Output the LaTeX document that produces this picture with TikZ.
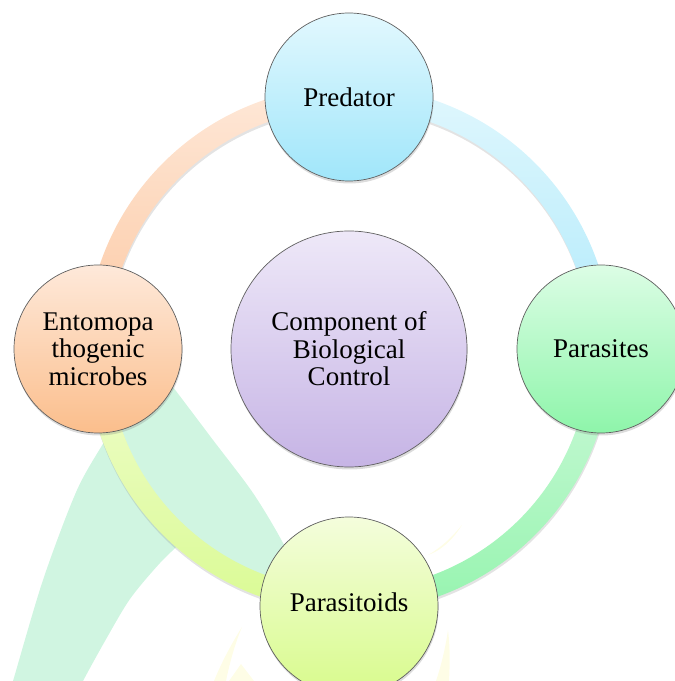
\documentclass[tikz,border=0pt]{standalone}
\usepackage{fontspec}
\setmainfont{Liberation Serif}
\newfontfamily\lserif{Liberation Serif}
\usetikzlibrary{shadows,calc}
\definecolor{bordergray}{RGB}{95,95,95}
\definecolor{leafgreen}{RGB}{208,245,225}
\definecolor{flameyellow}{RGB}{254,253,230}
\definecolor{predtop}{RGB}{226,248,254}
\definecolor{predbot}{RGB}{160,230,250}
\definecolor{paratop}{RGB}{220,253,229}
\definecolor{parabot}{RGB}{142,245,170}
\definecolor{oidtop}{RGB}{244,253,220}
\definecolor{oidbot}{RGB}{216,251,140}
\definecolor{entotop}{RGB}{254,233,218}
\definecolor{entobot}{RGB}{251,190,140}
\definecolor{centtop}{RGB}{238,232,248}
\definecolor{centbot}{RGB}{198,180,229}
\definecolor{ringAtop}{RGB}{254,232,216}
\definecolor{ringAbot}{RGB}{252,200,162}
\definecolor{ringBtop}{RGB}{224,247,253}
\definecolor{ringBbot}{RGB}{176,234,251}
\definecolor{ringCtop}{RGB}{206,249,218}
\definecolor{ringCbot}{RGB}{150,244,175}
\definecolor{ringDtop}{RGB}{240,252,206}
\definecolor{ringDbot}{RGB}{218,251,148}
\begin{document}
\begin{tikzpicture}[x=1pt,y=1pt,
  bub/.style={circle, draw=bordergray, line width=0.7pt, minimum size=168pt,
    inner sep=0pt, align=center, font=\lserif\fontsize{27}{27.6}\selectfont,
    drop shadow={opacity=0.28, shadow xshift=0.6pt, shadow yshift=-2.5pt}},
  bigbub/.style={bub, minimum size=236pt},
  txt/.style={inner sep=0pt, align=center, font=\lserif\fontsize{27}{27.6}\selectfont},
  ringseg/.style={drop shadow={opacity=0.22, shadow xshift=0.5pt, shadow yshift=-2.5pt}},
  leaf/.style={fill=leafgreen},
  flame/.style={fill=flameyellow}]
\useasboundingbox (0,0) rectangle (675,681);
\begin{scope}
\clip (0,0) rectangle (675,681);
% background leaf
\fill[leaf] plot[smooth] coordinates {(10,-8) (13,0) (43,101) (77,191) (107,244) (130,285)}
  -- (150,324)
  -- plot[smooth] coordinates {(150,324) (173,294) (213,241) (253,188) (283,138) (305,90)}
  -- (265,89) -- (186,143)
  -- plot[smooth] coordinates {(186,143) (160,118) (130,82) (105,40) (83,0) (80,-8)}
  -- cycle;
% faint flames
\fill[flame] (242,54) .. controls (230,35) and (220,15) .. (214,0) -- (226,0) .. controls (230,20) and (236,40) .. (242,54);
\fill[flame] (241,17) -- (229,0) -- (254,0) -- cycle;
\fill[flame] (448,51) .. controls (445,30) and (440,12) .. (436,0) -- (449,0) .. controls (450,18) and (450,35) .. (448,51);
\fill[flame] (462,156) .. controls (452,140) and (440,130) .. (428,126) .. controls (442,134) and (452,144) .. (462,156);
\end{scope}
\coordinate (C) at (349,332);
% ring segments
\shade[ringseg, top color=ringAtop, bottom color=ringAbot]
  ($(C)+(90:263)$) arc[start angle=90, end angle=180, radius=263]
  -- ($(C)+(180:241)$) arc[start angle=180, end angle=90, radius=241] -- cycle;
\shade[ringseg, top color=ringBtop, bottom color=ringBbot]
  ($(C)+(0:263)$) arc[start angle=0, end angle=90, radius=263]
  -- ($(C)+(90:241)$) arc[start angle=90, end angle=0, radius=241] -- cycle;
\shade[ringseg, top color=ringCtop, bottom color=ringCbot]
  ($(C)+(270:263)$) arc[start angle=270, end angle=360, radius=263]
  -- ($(C)+(0:241)$) arc[start angle=360, end angle=270, radius=241] -- cycle;
\shade[ringseg, top color=ringDtop, bottom color=ringDbot]
  ($(C)+(180:263)$) arc[start angle=180, end angle=270, radius=263]
  -- ($(C)+(270:241)$) arc[start angle=270, end angle=180, radius=241] -- cycle;
% circles
\node[bigbub, top color=centtop, bottom color=centbot] (center) at (349,332) {Component of\\Biological\\Control};
\node[bub, top color=predtop, bottom color=predbot] (pred) at (349,584) {Predator};
\node[bub, top color=paratop, bottom color=parabot] (paras) at (601,332) {Parasites};
\node[bub, minimum size=178pt, top color=oidtop, bottom color=oidbot] (paroid) at (349,75) {};
\node[txt] (paroidtext) at (349,79) {Parasitoids};
\node[bub, top color=entotop, bottom color=entobot] (ento) at (98,332) {Entomopa\\thogenic\\microbes};
\end{tikzpicture}
\end{document}
